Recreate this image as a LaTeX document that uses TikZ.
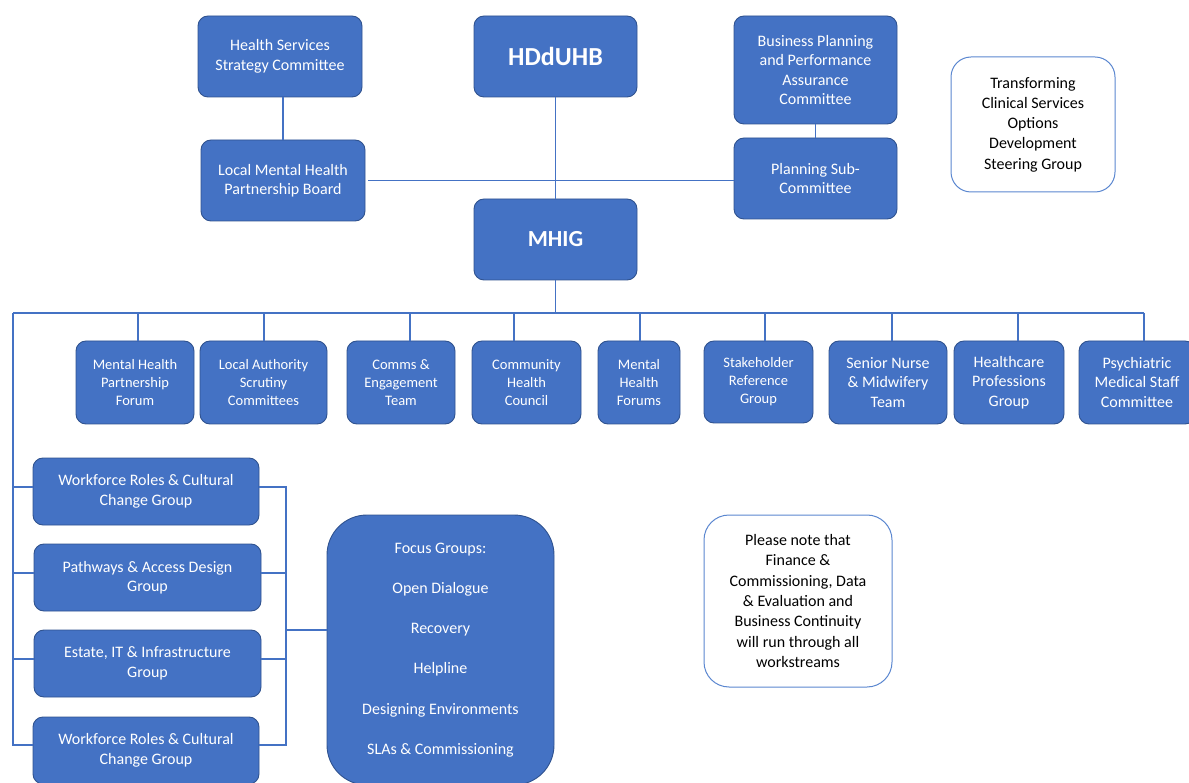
\documentclass[tikz,border=0pt]{standalone}
\usepackage{fontspec}
\setmainfont{Carlito}
\definecolor{boxblue}{HTML}{4472C4}
\definecolor{bdr}{HTML}{2F528F}
\definecolor{lineblue}{HTML}{4472C4}
\definecolor{noteblue}{HTML}{5B87D0}
\begin{document}
\begin{tikzpicture}[x=1pt,y=-1pt,
  bbox/.style={draw=bdr, fill=boxblue, rounded corners=10pt, text=white, align=center,
    inner sep=0pt, line width=0.9pt, font=\fontsize{16}{19.5}\selectfont},
  sbox/.style={bbox, font=\fontsize{14.5}{18}\selectfont},
  wbox/.style={draw=noteblue, fill=white, rounded corners=20pt, text=black, align=center,
    inner sep=0pt, line width=1pt, font=\fontsize{16}{20.3}\selectfont},
  conn/.style={draw=lineblue, line width=1.3pt}]
\useasboundingbox (0,0) rectangle (1189,783);
\begin{scope}
\clip (0,0) rectangle (1189,783);
% top
\node[bbox, minimum width=164pt, minimum height=81pt] (hssc) at (280,56.5) {Health Services\\Strategy Committee};
\node[bbox, minimum width=163pt, minimum height=81pt, font=\fontsize{26}{30}\selectfont\bfseries] (hdd) at (555.5,56.5) {HDdUHB};
\node[bbox, minimum width=163pt, minimum height=108pt] (bppac) at (815.5,70) {Business Planning\\and Performance\\Assurance\\Committee};
\node[wbox, minimum width=164pt, minimum height=135pt] (tcs) at (1033,124.5) {Transforming\\Clinical Services\\Options\\Development\\Steering Group};
\node[bbox, minimum width=164pt, minimum height=81pt] (lmhpb) at (283,180.5) {Local Mental Health\\Partnership Board};
\node[bbox, minimum width=163pt, minimum height=81pt] (psc) at (815.5,178.5) {Planning Sub-\\Committee};
\node[bbox, minimum width=163pt, minimum height=81pt, font=\fontsize{23}{27}\selectfont\bfseries] (mhig) at (555.5,239.5) {MHIG};
% row of groups
\node[sbox, minimum width=118pt, minimum height=83pt] (mhpf) at (135,382.5) {Mental Health\\Partnership\\Forum};
\node[sbox, minimum width=127pt, minimum height=83pt] (lasc) at (263.5,382.5) {Local Authority\\Scrutiny\\Committees};
\node[sbox, minimum width=108pt, minimum height=83pt] (comms) at (401,382.5) {Comms \&\\Engagement\\Team};
\node[sbox, minimum width=109pt, minimum height=83pt] (chc) at (526.5,382.5) {Community\\Health\\Council};
\node[sbox, minimum width=82pt, minimum height=83pt] (mhf) at (639,382.5) {Mental\\Health\\Forums};
\node[sbox, minimum width=109pt, minimum height=82pt] (srg) at (758.5,382) {Stakeholder\\Reference\\Group};
\node[bbox, minimum width=118pt, minimum height=83pt] (snmt) at (888,382.5) {Senior Nurse\\\& Midwifery\\Team};
\node[bbox, minimum width=110pt, minimum height=83pt] (hpg) at (1009,382.5) {Healthcare\\Professions\\Group};
\node[bbox, minimum width=116pt, minimum height=83pt] (pmsc) at (1137,382.5) {Psychiatric\\Medical Staff\\Committee};
% workstreams
\node[bbox, minimum width=226pt, minimum height=67pt] (wf1) at (146,491.5) {Workforce Roles \& Cultural\\Change Group};
\node[bbox, minimum width=227pt, minimum height=67pt] (paths) at (147.5,577.5) {Pathways \& Access Design\\Group};
\node[bbox, minimum width=227pt, minimum height=67pt] (estate) at (147.5,663.5) {Estate, IT \& Infrastructure\\Group};
\node[bbox, minimum width=226pt, minimum height=67pt] (wf2) at (146,750.5) {Workforce Roles \& Cultural\\Change Group};
\node[bbox, rounded corners=40pt, minimum width=227pt, minimum height=270pt,
  font=\fontsize{16}{40.2}\selectfont] (focus) at (440.5,650) {Focus Groups:\\Open Dialogue\\Recovery\\Helpline\\Designing Environments\\SLAs \& Commissioning};
\node[wbox, rounded corners=25pt, minimum width=188pt, minimum height=172pt] (note) at (798,601) {Please note that\\Finance \&\\Commissioning, Data\\\& Evaluation and\\Business Continuity\\will run through all\\workstreams};
% connectors top
\draw[conn] (lmhpb.north) -- (lmhpb.north |- hssc.south);
\draw[conn] (hdd.south) -- (mhig.north);
\draw[conn] ([xshift=3pt]lmhpb.east) -- (lmhpb.east -| psc.west);
\draw[conn] (bppac.south) -- (psc.north);
% bus
\coordinate (bus) at (555.5,313);
\coordinate (busL) at (13,313);
\coordinate (busR) at (1144,313);
\draw[conn] (mhig.south) -- (bus);
\draw[conn] (busL) -- (busR);
\coordinate (d1) at (138,313);
\coordinate (d2) at (264,313);
\coordinate (d3) at (410,313);
\coordinate (d4) at (514,313);
\coordinate (d5) at (640,313);
\coordinate (d6) at (765,313);
\coordinate (d7) at (892,313);
\coordinate (d8) at (1018,313);
\draw[conn] (d1) -- (d1 |- mhpf.north);
\draw[conn] (d2) -- (d2 |- lasc.north);
\draw[conn] (d3) -- (d3 |- comms.north);
\draw[conn] (d4) -- (d4 |- chc.north);
\draw[conn] (d5) -- (d5 |- mhf.north);
\draw[conn] (d6) -- (d6 |- srg.north);
\draw[conn] (d7) -- (d7 |- snmt.north);
\draw[conn] (d8) -- (d8 |- hpg.north);
\draw[conn] (busR) -- (busR |- pmsc.north);
% left trunk
\draw[conn] (busL) |- ([yshift=4.5pt]wf1.west);
\draw[conn] (busL) |- ([yshift=4.5pt]paths.west);
\draw[conn] (busL) |- ([yshift=4.5pt]estate.west);
\draw[conn] (busL) |- ([yshift=5.5pt]wf2.west);
% right trunk
\coordinate (rj) at (286,630);
\draw[conn] ([yshift=4.5pt]wf1.east) -| (rj);
\draw[conn] ([yshift=5.5pt]wf2.east) -| (rj);
\draw[conn] ([yshift=4.5pt]paths.east) -- ([yshift=4.5pt]paths.east -| rj);
\draw[conn] ([yshift=4.5pt]estate.east) -- ([yshift=4.5pt]estate.east -| rj);
\draw[conn] (rj) -- (rj -| focus.west);
\end{scope}
\end{tikzpicture}
\end{document}
